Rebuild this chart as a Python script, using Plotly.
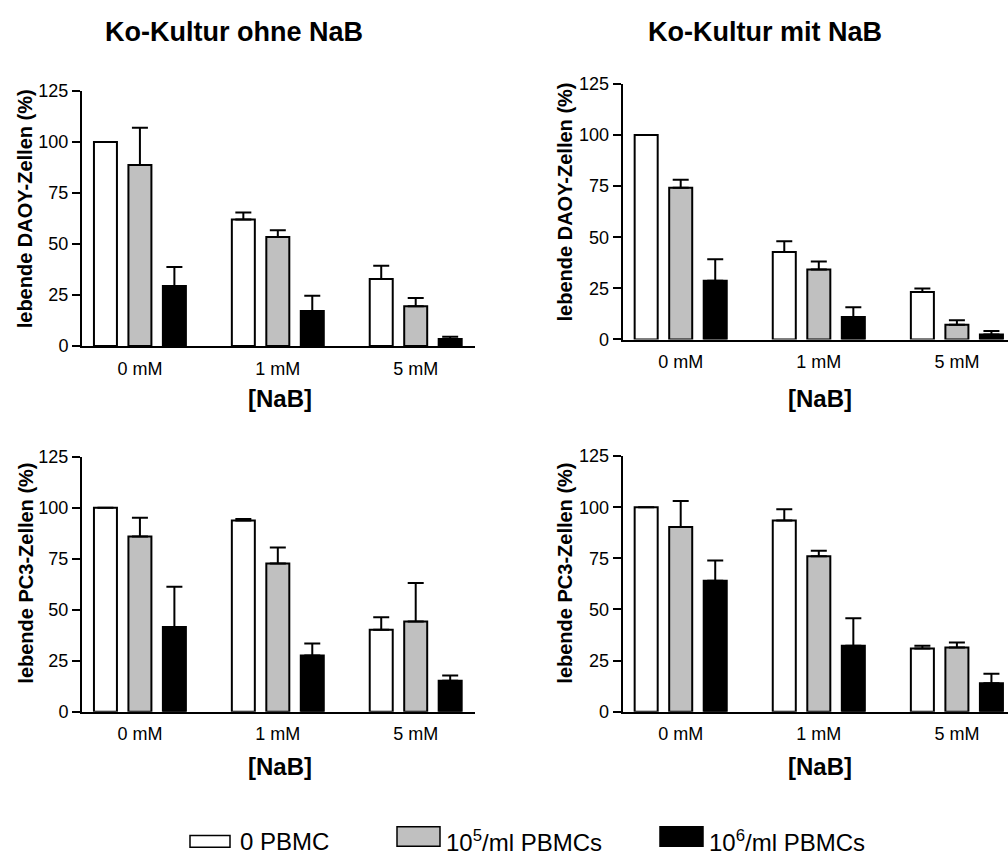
import plotly.graph_objects as go

# ---------------- data ----------------
categories = ["0 mM", "1 mM", "5 mM"]
series_names = ["0 PBMC", "10<sup>5</sup>/ml PBMCs", "10<sup>6</sup>/ml PBMCs"]
series_colors = ["#ffffff", "#c0c0c0", "#000000"]

panel_titles = ["Ko-Kultur ohne NaB", "Ko-Kultur mit NaB"]
y_titles = ["lebende DAOY-Zellen (%)", "lebende PC3-Zellen (%)"]
x_title = "[NaB]"
y_ticks = [0, 25, 50, 75, 100, 125]

# DAOY, Ko-Kultur ohne NaB
daoy_ohne_0pbmc = [100, 62.1, 32.9]
daoy_ohne_0pbmc_err = [None, 3.4, 6.5]
daoy_ohne_1e5 = [88.8, 53.5, 19.5]
daoy_ohne_1e5_err = [18.2, 3.3, 4.1]
daoy_ohne_1e6 = [29.4, 17.2, 3.4]
daoy_ohne_1e6_err = [9.4, 7.4, 1.1]

# DAOY, Ko-Kultur mit NaB
daoy_mit_0pbmc = [100, 42.8, 23.2]
daoy_mit_0pbmc_err = [None, 5.3, 1.8]
daoy_mit_1e5 = [74.2, 34.2, 7.2]
daoy_mit_1e5_err = [4.0, 3.9, 2.2]
daoy_mit_1e6 = [28.7, 11.0, 2.4]
daoy_mit_1e6_err = [10.6, 4.8, 1.7]

# PC3, Ko-Kultur ohne NaB
pc3_ohne_0pbmc = [100, 93.7, 40.2]
pc3_ohne_0pbmc_err = [None, 0.8, 6.1]
pc3_ohne_1e5 = [85.9, 72.6, 44.2]
pc3_ohne_1e5_err = [9.2, 7.9, 18.9]
pc3_ohne_1e6 = [41.5, 27.6, 15.2]
pc3_ohne_1e6_err = [19.8, 5.8, 2.5]

# PC3, Ko-Kultur mit NaB
pc3_mit_0pbmc = [100, 93.5, 30.9]
pc3_mit_0pbmc_err = [None, 5.5, 1.3]
pc3_mit_1e5 = [90.4, 76.0, 31.4]
pc3_mit_1e5_err = [12.6, 2.7, 2.4]
pc3_mit_1e6 = [64.0, 32.2, 13.9]
pc3_mit_1e6_err = [10.0, 13.5, 4.6]

panels = [
    ("x", "y", [daoy_ohne_0pbmc, daoy_ohne_1e5, daoy_ohne_1e6],
     [daoy_ohne_0pbmc_err, daoy_ohne_1e5_err, daoy_ohne_1e6_err]),
    ("x2", "y2", [daoy_mit_0pbmc, daoy_mit_1e5, daoy_mit_1e6],
     [daoy_mit_0pbmc_err, daoy_mit_1e5_err, daoy_mit_1e6_err]),
    ("x3", "y3", [pc3_ohne_0pbmc, pc3_ohne_1e5, pc3_ohne_1e6],
     [pc3_ohne_0pbmc_err, pc3_ohne_1e5_err, pc3_ohne_1e6_err]),
    ("x4", "y4", [pc3_mit_0pbmc, pc3_mit_1e5, pc3_mit_1e6],
     [pc3_mit_0pbmc_err, pc3_mit_1e5_err, pc3_mit_1e6_err]),
]

W, H = 1008, 865
FONT = "Liberation Sans, Arial, Helvetica, sans-serif"

fig = go.Figure()
for xa, ya, vals, errs in panels:
    for name, color, v, e in zip(series_names, series_colors, vals, errs):
        fig.add_trace(go.Bar(
            x=categories, y=v, name=name, xaxis=xa, yaxis=ya,
            marker=dict(color=color, line=dict(color="black", width=2)),
            error_y=dict(type="data", array=e, arrayminus=[0] * len(v),
                         symmetric=False, color="black", thickness=2, width=8),
            showlegend=False,
        ))

def px_x(p):
    return p / W

def px_y(p):
    return (H - p) / H

xdom_left = [px_x(82), px_x(475)]
xdom_right = [px_x(622.7), 1.0]

xcommon = dict(type="category", showline=True, linecolor="black", linewidth=2,
               ticks="", showgrid=False, zeroline=False, ticklabelstandoff=5,
               tickfont=dict(family=FONT, size=18, color="black"))
ycommon = dict(range=[0, 125], tickvals=y_ticks, showline=True, linecolor="black",
               linewidth=2, ticks="outside", ticklen=8, tickwidth=2, tickcolor="black",
               showgrid=False, zeroline=False,
               tickfont=dict(family=FONT, size=18, color="black"))

fig.update_layout(
    width=W, height=H,
    margin=dict(l=0, r=0, t=0, b=0),
    paper_bgcolor="white", plot_bgcolor="white",
    barmode="group", bargap=0.25, bargroupgap=0.333,
    showlegend=False,
    xaxis=dict(domain=xdom_left, range=[-0.42, 2.43], anchor="y", **xcommon),
    yaxis=dict(domain=[px_y(344), px_y(83)], anchor="x", **ycommon),
    xaxis2=dict(domain=xdom_right, range=[-0.42, 2.37], anchor="y2", **xcommon),
    yaxis2=dict(domain=[px_y(337.3), px_y(75.7)], anchor="x2", **ycommon),
    xaxis3=dict(domain=xdom_left, range=[-0.42, 2.43], anchor="y3", **xcommon),
    yaxis3=dict(domain=[px_y(718.3), px_y(457.3)], anchor="x3", **ycommon),
    xaxis4=dict(domain=xdom_right, range=[-0.42, 2.37], anchor="y4", **xcommon),
    yaxis4=dict(domain=[px_y(718.3), px_y(456.7)], anchor="x4", **ycommon),
)

annotations = []
bold = lambda s: "<b>" + s + "</b>"
# panel titles
for t, cx in zip(panel_titles, [234, 765]):
    annotations.append(dict(text=bold(t), x=px_x(cx), y=px_y(23), xref="paper", yref="paper",
                            xanchor="center", yanchor="middle", showarrow=False,
                            font=dict(family=FONT, size=27, color="black")))
# x titles
for cx, cy in [(280, 398), (820, 398), (280, 774), (820, 774)]:
    annotations.append(dict(text=bold(x_title), x=px_x(cx), y=px_y(cy), xref="paper", yref="paper",
                            xanchor="center", yanchor="middle", showarrow=False,
                            font=dict(family=FONT, size=24, color="black")))
# y titles
for t, cx, cy in [(y_titles[0], 25, 204), (y_titles[0], 565, 197),
                  (y_titles[1], 26, 577), (y_titles[1], 565, 577)]:
    annotations.append(dict(text=bold(t), x=px_x(cx), y=px_y(cy), xref="paper", yref="paper",
                            xanchor="center", yanchor="middle", textangle=-90, showarrow=False,
                            font=dict(family=FONT, size=20, color="black")))

# custom legend
legend_boxes = [(190, 230, 845, 857), (397, 440, 836, 856), (660, 703, 836, 856)]
legend_text_x = [238, 444, 707]
shapes = []
for (x0, x1, y0, y1), color, name, tx in zip(legend_boxes, series_colors, series_names, legend_text_x):
    shapes.append(dict(type="rect", xref="paper", yref="paper",
                       x0=px_x(x0), x1=px_x(x1), y0=px_y(y1), y1=px_y(y0),
                       fillcolor=color, line=dict(color="black", width=1.5)))
    annotations.append(dict(text=name, x=px_x(tx), y=px_y(851), xref="paper", yref="paper",
                            xanchor="left", yanchor="middle", showarrow=False,
                            font=dict(family=FONT, size=24, color="black")))

fig.update_layout(annotations=annotations, shapes=shapes)

fig.write_html("out.html", config={"displayModeBar": False},
               post_script="document.body.style.margin='0';document.body.style.overflow='hidden';")
